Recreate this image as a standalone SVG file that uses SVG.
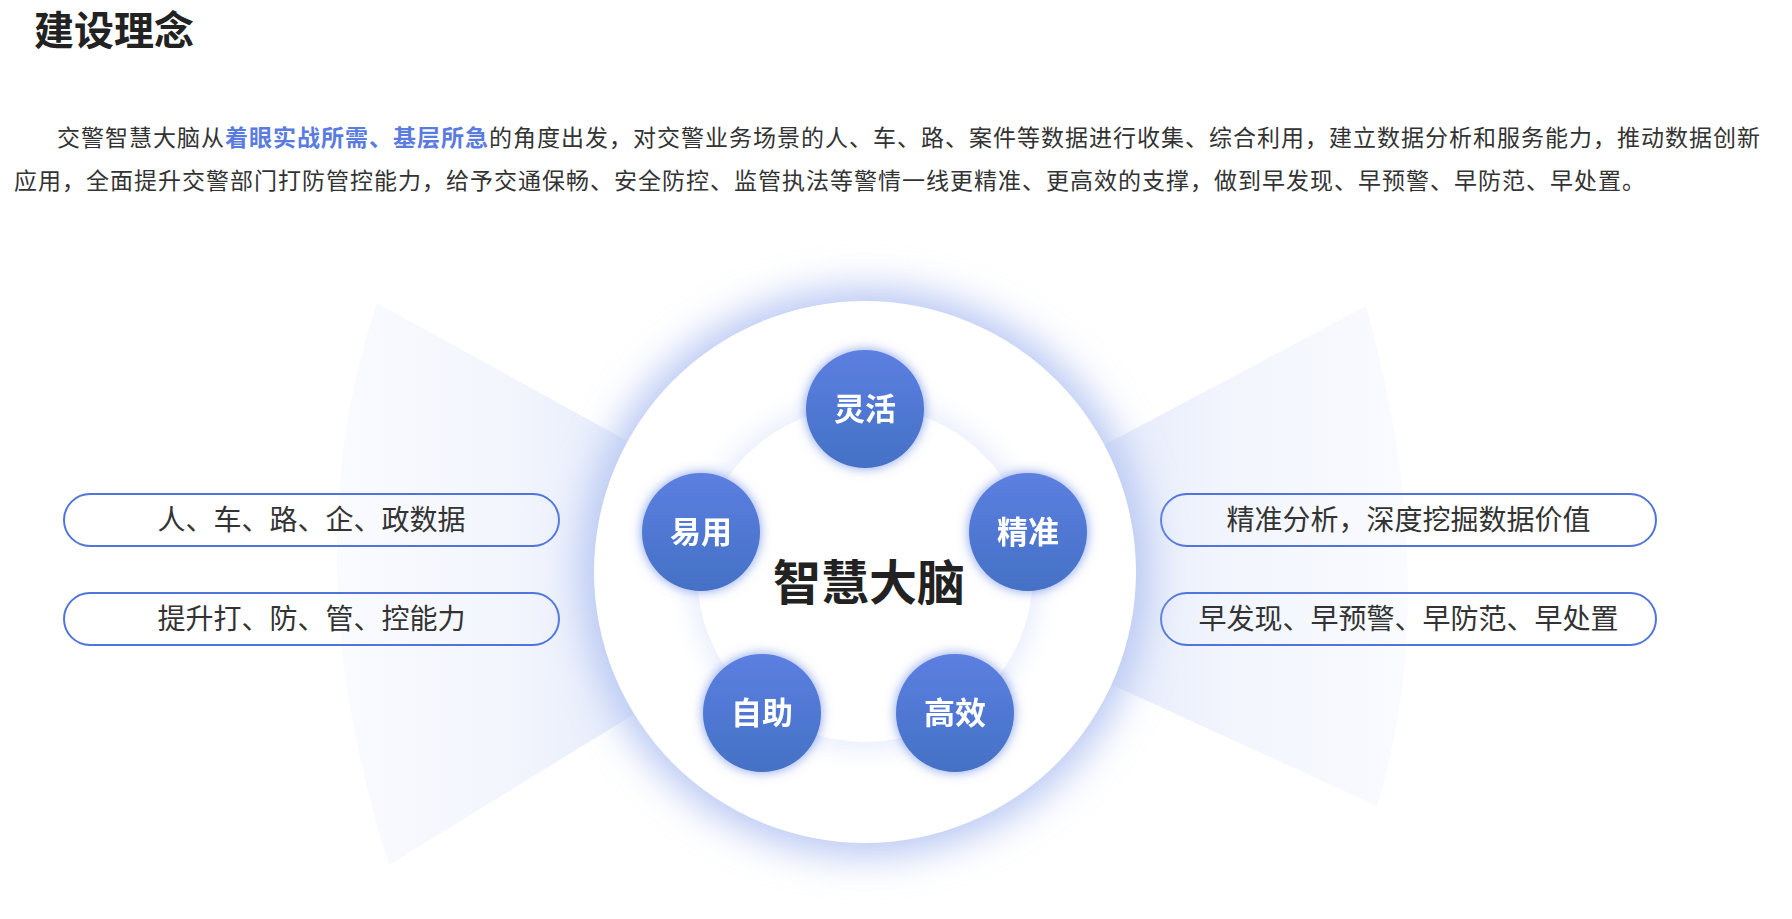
<svg xmlns="http://www.w3.org/2000/svg" width="1792" height="919" viewBox="0 0 1792 919">
<defs>
<style>
.cjk{font-family:"Noto Sans CJK SC","Noto Sans",sans-serif;}
.title{font-size:40px;font-weight:700;fill:#222;}
.para{font-size:23px;fill:#333;letter-spacing:1px;}
.hl{fill:#5a7be0;font-weight:700;}
.pill{fill:none;stroke:#4f74dc;stroke-width:2;}
.pilltext{font-size:28px;fill:#333;text-anchor:middle;}
.node{fill:url(#nodeGrad);}
.nodetext{font-size:31px;font-weight:700;fill:#fff;text-anchor:middle;}
.core{font-size:48px;font-weight:700;fill:#222;text-anchor:middle;}
</style>
<linearGradient id="leftFan" x1="337" y1="0" x2="700" y2="0" gradientUnits="userSpaceOnUse">
<stop offset="0" stop-color="#fafbff"/>
<stop offset="0.5" stop-color="#f2f5fd"/>
<stop offset="1" stop-color="#dde5f9"/>
</linearGradient>
<linearGradient id="rightFan" x1="1410" y1="0" x2="1040" y2="0" gradientUnits="userSpaceOnUse">
<stop offset="0" stop-color="#fafbff"/>
<stop offset="0.5" stop-color="#f2f5fd"/>
<stop offset="1" stop-color="#dde5f9"/>
</linearGradient>
<linearGradient id="nodeGrad" x1="0" y1="0" x2="0" y2="1">
<stop offset="0" stop-color="#5c7fe1"/>
<stop offset="1" stop-color="#4471c5"/>
</linearGradient>
<filter id="halo" x="-30%" y="-30%" width="160%" height="160%">
<feGaussianBlur stdDeviation="18"/>
</filter>
<filter id="innerHalo" x="-30%" y="-30%" width="160%" height="160%">
<feGaussianBlur stdDeviation="12"/>
</filter>
<filter id="nodeGlow" x="-40%" y="-40%" width="180%" height="180%">
<feGaussianBlur in="SourceAlpha" stdDeviation="6" result="b"/>
<feFlood flood-color="#5a7de0" flood-opacity="0.75"/>
<feComposite in2="b" operator="in" result="s"/>
<feMerge><feMergeNode in="s"/><feMergeNode in="SourceGraphic"/></feMerge>
</filter>
</defs>
<rect width="1792" height="919" fill="#fff"/>

<g id="header">
<text class="cjk title" x="34" y="45">建设理念</text>
<text class="cjk para" x="57" y="146">交警智慧大脑从<tspan class="hl">着眼实战所需、基层所急</tspan>的角度出发，对交警业务场景的人、车、路、案件等数据进行收集、综合利用，建立数据分析和服务能力，推动数据创新</text>
<text class="cjk para" x="14" y="189">应用，全面提升交警部门打防管控能力，给予交通保畅、安全防控、监管执法等警情一线更精准、更高效的支撑，做到早发现、早预警、早防范、早处置。</text>
</g>

<g id="fans">
<path d="M865,572 L377,303 Q291,558 389,865 Z" fill="url(#leftFan)"/>
<path d="M865,572 L1366,306 Q1444,586 1377,806 Z" fill="url(#rightFan)"/>
</g>

<g id="pill-left-1">
<rect class="pill" x="64" y="494" width="495" height="52" rx="26"/>
<text class="cjk pilltext" x="311.5" y="530">人、车、路、企、政数据</text>
</g>
<g id="pill-left-2">
<rect class="pill" x="64" y="593" width="495" height="52" rx="26"/>
<text class="cjk pilltext" x="311.5" y="629">提升打、防、管、控能力</text>
</g>
<g id="pill-right-1">
<rect class="pill" x="1161" y="494" width="495" height="52" rx="26"/>
<text class="cjk pilltext" x="1408.5" y="530">精准分析，深度挖掘数据价值</text>
</g>
<g id="pill-right-2">
<rect class="pill" x="1161" y="593" width="495" height="52" rx="26"/>
<text class="cjk pilltext" x="1408.5" y="629">早发现、早预警、早防范、早处置</text>
</g>

<g id="core">
<circle cx="865" cy="572" r="285" fill="#bccaf4" filter="url(#halo)"/>
<circle cx="865" cy="572" r="271" fill="#fff"/>
<circle cx="865" cy="574" r="176" fill="#e9eefc" filter="url(#innerHalo)"/>
<circle cx="865" cy="574" r="168" fill="#fff"/>
<text class="cjk core" x="869" y="600">智慧大脑</text>
</g>

<g id="node-linghuo" filter="url(#nodeGlow)">
<circle class="node" cx="865" cy="409" r="59"/>
<text class="cjk nodetext" x="865" y="420">灵活</text>
</g>
<g id="node-jingzhun" filter="url(#nodeGlow)">
<circle class="node" cx="1028" cy="532" r="59"/>
<text class="cjk nodetext" x="1028" y="543">精准</text>
</g>
<g id="node-gaoxiao" filter="url(#nodeGlow)">
<circle class="node" cx="955" cy="713" r="59"/>
<text class="cjk nodetext" x="955" y="724">高效</text>
</g>
<g id="node-zizhu" filter="url(#nodeGlow)">
<circle class="node" cx="762" cy="713" r="59"/>
<text class="cjk nodetext" x="762" y="724">自助</text>
</g>
<g id="node-yiyong" filter="url(#nodeGlow)">
<circle class="node" cx="701" cy="532" r="59"/>
<text class="cjk nodetext" x="701" y="543">易用</text>
</g>
</svg>
